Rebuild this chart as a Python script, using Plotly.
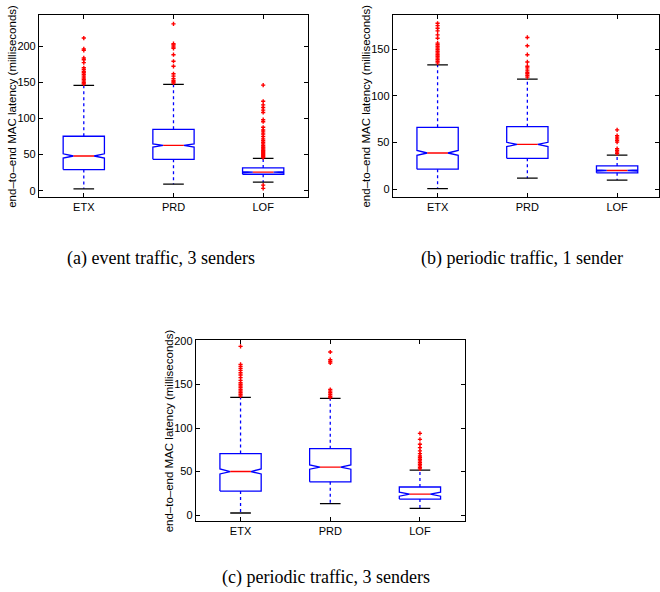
import plotly.graph_objects as go

W, H = 660, 592

categories = ["ETX", "PRD", "LOF"]

# ---- panel (a): event traffic, 3 senders ----
a_q1 = [29.2, 43.4, 22.8]
a_med = [48.0, 62.6, 25.6]
a_q3 = [75.3, 84.9, 31.5]
a_nlo = [45.2, 60.3, 24.9]
a_nhi = [51.1, 64.8, 26.3]
a_wlo = [2.7, 9.1, 11.9]
a_whi = [145.7, 147.0, 44.7]
a_out = [
    [211, 196, 194, 183.5, 181, 177, 170, 167.6, 165, 163, 160.7, 158.4, 156, 154, 151.6, 149.3, 147.5],
    [230.6, 203.2, 201.4, 198.6, 196.8, 188, 179, 172, 161.6, 158.4, 155, 152.5, 150.7, 148.9],
    [146, 123.7, 118.7, 115, 111.4, 108.2, 98.2, 95.4, 87.7, 84, 81.3, 78.5, 74.9, 71.7, 69.4,
     67.1, 64.8, 62.6, 60.5, 59, 57.5, 56, 54.5, 53, 51.5, 50, 48.5, 47, 45.8, 7.8, 3.2],
]

# ---- panel (b): periodic traffic, 1 sender ----
b_q1 = [21.3, 33.0, 17.4]
b_med = [38.7, 47.9, 19.9]
b_q3 = [66.3, 67.0, 24.8]
b_nlo = [36.2, 45.6, 19.2]
b_nhi = [41.5, 50.2, 20.6]
b_wlo = [0.4, 11.7, 9.6]
b_whi = [133.3, 118.0, 36.5]
b_out = [
    [178, 175.5, 172.7, 169.9, 165.6, 162, 156.7, 155, 153.2, 151.4, 149.6, 147.9, 146.1,
     144.3, 142.6, 140.8, 139, 137.2, 135.5],
    [162.8, 153.9, 144.3, 136.5, 131.9, 130.1, 127.7, 125.5, 123.8, 122, 120.2],
    [63.5, 57.4, 55.7, 53.9, 52.1, 50.4, 43.3, 41.5, 39.7, 38],
]

# ---- panel (c): periodic traffic, 3 senders ----
c_q1 = [27.5, 38.2, 18.3]
c_med = [50.0, 55.0, 24.0]
c_q3 = [70.6, 76.3, 32.2]
c_nlo = [47.2, 52.7, 21.6]
c_nhi = [53.0, 57.6, 26.3]
c_wlo = [2.3, 13.0, 7.6]
c_whi = [135.2, 134.0, 51.5]
c_out = [
    [193.9, 173.2, 170.9, 168.6, 166.3, 163.6, 160.9, 157.9, 154.8, 152.1, 150.2, 148.3,
     146.4, 144.4, 142.5, 140.6, 138.7, 136.8],
    [187.4, 178.6, 176.7, 174.8, 144.3, 142.4, 140.5, 138.5, 136.6, 135.1],
    [93.9, 87, 81.3, 77.5, 73.7, 70.6, 67.9, 66, 64.1, 62.2, 60.3, 58.4, 56.5, 54.6, 53],
]

y_ticks_a = [0, 50, 100, 150, 200]
y_ticks_b = [0, 50, 100, 150]
y_ticks_c = [0, 50, 100, 150, 200]

ylabel = "end\u2013to\u2013end MAC latency (milliseconds)"
captions = ["(a) event traffic, 3 senders", "(b) periodic traffic, 1 sender",
            "(c) periodic traffic, 3 senders"]

BLUE = "#0000FF"
RED = "#FF0000"
BW = 0.46  # box width in category units

fig = go.Figure()


def add_panel(xa, ya, q1, med, q3, nlo, nhi, wlo, whi, outs):
    xref = "x" if xa == 1 else "x%d" % xa
    yref = "y" if ya == 1 else "y%d" % ya
    for i in range(len(categories)):
        x = i + 1
        h, qq = BW / 2, BW / 4
        # notched box outline
        bx = [x - h, x - h, x - qq, x - h, x - h, x + h, x + h, x + qq, x + h, x + h, x - h]
        by = [q1[i], nlo[i], med[i], nhi[i], q3[i], q3[i], nhi[i], med[i], nlo[i], q1[i], q1[i]]
        fig.add_trace(go.Scatter(x=bx, y=by, mode="lines", xaxis=xref, yaxis=yref,
                                 line=dict(color=BLUE, width=1.3), hoverinfo="skip"))
        # median
        fig.add_trace(go.Scatter(x=[x - qq, x + qq], y=[med[i], med[i]], mode="lines",
                                 xaxis=xref, yaxis=yref,
                                 line=dict(color=RED, width=1.3), hoverinfo="skip"))
        # whiskers
        fig.add_trace(go.Scatter(x=[x, x, None, x, x], y=[q3[i], whi[i], None, q1[i], wlo[i]],
                                 mode="lines", xaxis=xref, yaxis=yref,
                                 line=dict(color=BLUE, width=1.3, dash="3px,3px"),
                                 hoverinfo="skip"))
        # caps
        fig.add_trace(go.Scatter(x=[x - qq, x + qq, None, x - qq, x + qq],
                                 y=[whi[i], whi[i], None, wlo[i], wlo[i]],
                                 mode="lines", xaxis=xref, yaxis=yref,
                                 line=dict(color="black", width=1.3), hoverinfo="skip"))
        # outliers
        fig.add_trace(go.Scatter(x=[x] * len(outs[i]), y=outs[i], mode="markers",
                                 xaxis=xref, yaxis=yref,
                                 marker=dict(symbol="cross", size=3.5, color=RED,
                                             line=dict(width=0)),
                                 hoverinfo="skip"))


add_panel(1, 1, a_q1, a_med, a_q3, a_nlo, a_nhi, a_wlo, a_whi, a_out)
add_panel(2, 2, b_q1, b_med, b_q3, b_nlo, b_nhi, b_wlo, b_whi, b_out)
add_panel(3, 3, c_q1, c_med, c_q3, c_nlo, c_nhi, c_wlo, c_whi, c_out)


def px_x(p):
    return p / W


def px_y(p):
    return 1 - p / H


FONT = dict(family="Liberation Sans, Arial, sans-serif", size=11, color="black")

axis_common = dict(showline=True, mirror="allticks", linecolor="black", linewidth=1,
                   ticks="inside", ticklen=4, tickcolor="black", showgrid=False,
                   zeroline=False, tickfont=FONT)

panels = [
    # xdomain px, ydomain px (top, bottom), yrange, xrange, yticks
    ((39, 308.5), (10, 193.3), [-8.2, 243.0], [0.5, 3.5], y_ticks_a),
    ((393.3, 660), (10, 193.3), [-8.2, 187.0], [0.5, 0.5 + (660 - 393.3) / 89.9], y_ticks_b),
    ((196, 465.5), (338, 520.5), [-7.0, 201.0], [0.5, 3.5], y_ticks_c),
]

layout = dict(width=W, height=H, margin=dict(l=0, r=0, t=0, b=0),
              paper_bgcolor="white", plot_bgcolor="white", showlegend=False,
              font=FONT)

annotations = []
for k, (xd, yd, yr, xr, yt) in enumerate(panels):
    sx = "" if k == 0 else str(k + 1)
    layout["xaxis" + sx] = dict(axis_common, domain=[px_x(xd[0]), px_x(xd[1])], range=xr,
                                tickvals=[1, 2, 3], ticktext=categories,
                                anchor="y" + sx)
    layout["yaxis" + sx] = dict(axis_common, domain=[px_y(yd[1]), px_y(yd[0])], range=yr,
                                tickvals=yt, ticktext=[str(v) for v in yt],
                                anchor="x" + sx)
    # y axis title
    annotations.append(dict(text=ylabel, textangle=-90, xref="paper", yref="paper",
                            x=px_x(xd[0] - 27), y=px_y((yd[0] + yd[1]) / 2),
                            xanchor="center", yanchor="middle", showarrow=False,
                            font=dict(family="Liberation Sans, Arial, sans-serif",
                                      size=11.5, color="black")))

cap_pos = [(161, 256), (523, 256), (326, 577)]
for text, (cx, cy) in zip(captions, cap_pos):
    annotations.append(dict(text=text, xref="paper", yref="paper", x=px_x(cx), y=px_y(cy),
                            xanchor="center", yanchor="middle", showarrow=False,
                            font=dict(family="Liberation Serif, Times New Roman, serif",
                                      size=18, color="black")))

layout["annotations"] = annotations
fig.update_layout(**layout)

fig.write_html("out.html", config={"displayModeBar": False},
               post_script="document.body.style.margin='0';document.body.style.padding='0';")
